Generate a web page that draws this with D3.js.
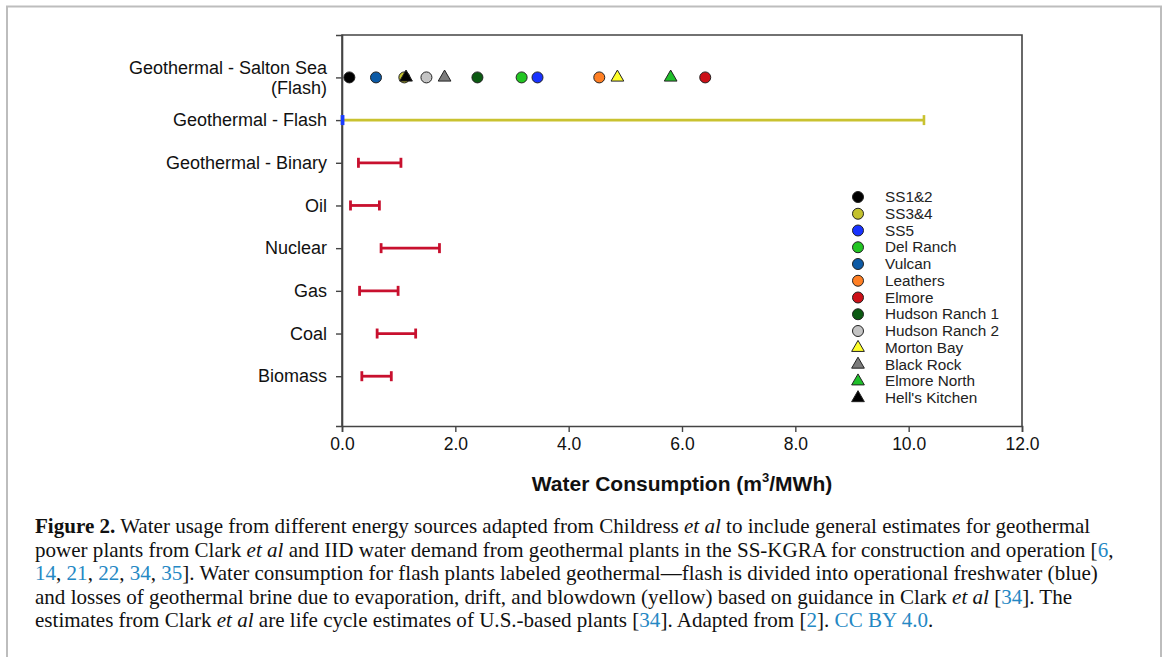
<!DOCTYPE html>
<html>
<head>
<meta charset="utf-8">
<script src="https://cdn.jsdelivr.net/npm/d3@7"></script>
<style>
  body { margin: 0; background: #fff; }
  svg { display: block; }
</style>
</head>
<body>
<div id="chart"></div>
<script>
// Kategorien (y-Achse)
var categories = ["Geothermal - Salton Sea (Flash)", "Geothermal - Flash", "Geothermal - Binary",
                  "Oil", "Nuclear", "Gas", "Coal", "Biomass"];
// Spannweiten (m3/MWh) fuer die roten Balken
var rangeCats = ["Geothermal - Binary", "Oil", "Nuclear", "Gas", "Coal", "Biomass"];
var rangeLow  = [0.29, 0.15, 0.69, 0.31, 0.62, 0.35];
var rangeHigh = [1.04, 0.66, 1.72, 0.99, 1.30, 0.87];
// Flash: Frischwasser (blau) und Solverluste (gelb)
var flashFresh = [0, 0.02];
var flashBrine = [0, 10.27];
// Salton Sea Anlagen
var plants = ["SS1&2", "SS3&4", "SS5", "Del Ranch", "Vulcan", "Leathers", "Elmore",
              "Hudson Ranch 1", "Hudson Ranch 2", "Morton Bay", "Black Rock", "Elmore North", "Hell's Kitchen"];
var plantValues = [0.13, 1.10, 3.45, 3.17, 0.60, 4.54, 6.41, 2.39, 1.49, 4.86, 1.81, 5.80, 1.13];
var plantShapes = ["circle", "circle", "circle", "circle", "circle", "circle", "circle",
                   "circle", "circle", "triangle", "triangle", "triangle", "triangle"];
var plantColors = ["#000000", "#c4c22e", "#1832ff", "#22c522", "#0c5aa6", "#ff7f24", "#cc1018",
                   "#0b5a12", "#c4c4c4", "#ffff2a", "#7c7c7c", "#1fbf2a", "#000000"];
var xTicks = [0, 2, 4, 6, 8, 10, 12];

var width = 1167, height = 657;
var plotLeft = 342, plotRight = 1022, plotTop = 35, plotBottom = 426;

var svg = d3.select("#chart").append("svg")
  .attr("width", width)
  .attr("height", height);

// Rahmen
svg.append("path")
  .attr("d", "M7,660 V6.5 H1161 V660")
  .attr("fill", "none")
  .attr("stroke", "#bdbdbd")
  .attr("stroke-width", 2);

var x = d3.scaleLinear().domain([0, 12]).range([plotLeft, plotRight]);
var y = d3.scalePoint().domain(categories).range([plotTop, plotBottom]).padding(1.08).align(0.46);

// Plot-Box
svg.append("path")
  .attr("d", "M" + plotLeft + "," + plotBottom + " V" + plotTop + " H" + plotRight + " V" + plotBottom)
  .attr("fill", "none")
  .attr("stroke", "#444")
  .attr("stroke-width", 1.6);

// x-Achse
var xAxis = svg.append("g")
  .attr("transform", "translate(0," + plotBottom + ")")
  .call(d3.axisBottom(x).tickValues(xTicks).tickFormat(d3.format(".1f")).tickSize(6).tickPadding(6));
xAxis.select(".domain").attr("stroke", "#444").attr("stroke-width", 1.6);
xAxis.selectAll(".tick line").attr("stroke", "#444").attr("stroke-width", 1.4);
xAxis.selectAll(".tick text")
  .attr("font-family", "Liberation Sans, Arial, sans-serif")
  .attr("font-size", 17.5)
  .attr("fill", "#111");

// y-Achse
var yAxis = svg.append("g")
  .attr("transform", "translate(" + plotLeft + ",0)")
  .call(d3.axisLeft(y).tickSize(6).tickPadding(9));
yAxis.select(".domain").attr("stroke", "#444").attr("stroke-width", 1.6);
yAxis.selectAll(".tick line").attr("stroke", "#444").attr("stroke-width", 1.4);
yAxis.selectAll(".tick text")
  .attr("font-family", "Liberation Sans, Arial, sans-serif")
  .attr("font-size", 18)
  .attr("fill", "#111")
  .each(function(d) {
    var t = d3.select(this);
    if (d == "Geothermal - Salton Sea (Flash)") {
      t.text(null);
      t.append("tspan").attr("x", -15).attr("dy", "-0.2em").text("Geothermal - Salton Sea");
      t.append("tspan").attr("x", -15).attr("dy", "1.08em").text("(Flash)");
    }
  });

// Axentitel
var title = svg.append("text")
  .attr("x", 682)
  .attr("y", 491)
  .attr("text-anchor", "middle")
  .attr("font-family", "Liberation Sans, Arial, sans-serif")
  .attr("font-size", 21)
  .attr("font-weight", "bold")
  .attr("fill", "#111");
title.append("tspan").text("Water Consumption (m");
title.append("tspan").attr("dy", -9).attr("font-size", 13).text("3");
title.append("tspan").attr("dy", 9).text("/MWh)");

// Balken mit Endkappen
function errBar(g, cat, lo, hi, color, w) {
  var yy = y(cat);
  g.append("line").attr("x1", x(lo)).attr("x2", x(hi)).attr("y1", yy).attr("y2", yy)
    .attr("stroke", color).attr("stroke-width", w);
  [lo, hi].forEach(function(v) {
    g.append("line").attr("x1", x(v)).attr("x2", x(v)).attr("y1", yy - 5).attr("y2", yy + 5)
      .attr("stroke", color).attr("stroke-width", w);
  });
}
var bars = svg.append("g");
rangeCats.forEach(function(c, i) {
  errBar(bars, c, rangeLow[i], rangeHigh[i], "#c8102e", 2.8);
});
errBar(bars, "Geothermal - Flash", flashBrine[0], flashBrine[1], "#c9c230", 2.6);
errBar(bars, "Geothermal - Flash", flashFresh[0], flashFresh[1], "#1a3cff", 2.6);

// Symbole
var circleSym = d3.symbol().type(d3.symbolCircle).size(95);
var triSym = d3.symbol().type(d3.symbolTriangle).size(70);
function symPath(s) { return s == "circle" ? circleSym() : triSym(); }

svg.append("g").selectAll("path")
  .data(plants)
  .join("path")
  .attr("d", function(d, i) { return symPath(plantShapes[i]); })
  .attr("transform", function(d, i) {
    return "translate(" + x(plantValues[i]) + "," + y("Geothermal - Salton Sea (Flash)") + ")";
  })
  .attr("fill", function(d, i) { return plantColors[i]; })
  .attr("stroke", "#222")
  .attr("stroke-width", 1);

// Legende
var legend = svg.append("g").attr("transform", "translate(858,197)");
var legRow = legend.selectAll("g")
  .data(plants)
  .join("g")
  .attr("transform", function(d, i) { return "translate(0," + (i * 16.75) + ")"; });
legRow.append("path")
  .attr("d", function(d, i) { return symPath(plantShapes[i]); })
  .attr("fill", function(d, i) { return plantColors[i]; })
  .attr("stroke", "#222")
  .attr("stroke-width", 1);
legRow.append("text")
  .attr("x", 27)
  .attr("y", 5)
  .attr("font-family", "Liberation Sans, Arial, sans-serif")
  .attr("font-size", 15.3)
  .attr("fill", "#222")
  .text(function(d) { return d; });

// Bildunterschrift
var blue = "#2588c4";
var captionLines = [
  [["Figure 2.", "b"], [" Water usage from different energy sources adapted from Childress "], ["et al", "i"], [" to include general estimates for geothermal"]],
  [["power plants from Clark "], ["et al", "i"], [" and IID water demand from geothermal plants in the SS-KGRA for construction and operation ["], ["6", "l"], [","]],
  [["14", "l"], [", "], ["21", "l"], [", "], ["22", "l"], [", "], ["34", "l"], [", "], ["35", "l"], ["]. Water consumption for flash plants labeled geothermal\u2014flash is divided into operational freshwater (blue)"]],
  [["and losses of geothermal brine due to evaporation, drift, and blowdown (yellow) based on guidance in Clark "], ["et al", "i"], [" ["], ["34", "l"], ["]. The"]],
  [["estimates from Clark "], ["et al", "i"], [" are life cycle estimates of U.S.-based plants ["], ["34", "l"], ["]. Adapted from ["], ["2", "l"], ["]. "], ["CC BY 4.0", "l"], ["."]]
];
var caption = svg.append("g")
  .attr("font-family", "Liberation Serif, Times New Roman, serif")
  .attr("font-size", 19)
  .attr("fill", "#111");
var capTexts = captionLines.map(function(parts, i) {
  var t = caption.append("text").attr("x", 35).attr("y", 533 + i * 23.6);
  parts.forEach(function(p) {
    var s = t.append("tspan").text(p[0]);
    if (p[1] == "b") s.attr("font-weight", "bold");
    if (p[1] == "i") s.attr("font-style", "italic");
    if (p[1] == "l") s.attr("fill", blue);
  });
  return t;
});
// Schriftgroesse an Zeilenbreite anpassen
var w0 = capTexts[0].node().getComputedTextLength();
caption.attr("font-size", 19 * 1056 / w0);
</script>
</body>
</html>
